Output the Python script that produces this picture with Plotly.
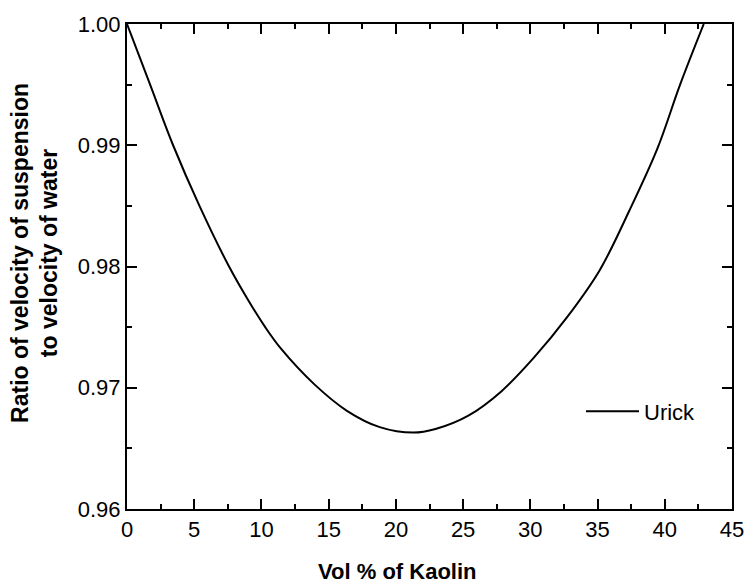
import plotly.graph_objects as go

# Urick curve
vol_kaolin = [0.0, 1.72, 3.43, 5.39, 7.59, 9.03, 10.28, 11.47, 13.92, 16.36,
              18.80, 21.3, 22.95, 25.39, 27.84, 30.28, 32.72, 35.16, 37.36,
              39.44, 41.14, 42.9]
velocity_ratio = [1.000, 0.995, 0.990, 0.985, 0.980, 0.9772, 0.975, 0.9732,
                  0.9703, 0.9681, 0.96675, 0.9663, 0.9666, 0.9677, 0.9697,
                  0.9725, 0.9758, 0.9797, 0.9846, 0.9897, 0.995, 1.000]
series_name = "Urick"

FONT = "Liberation Sans, Arial, Helvetica, sans-serif"

fig = go.Figure()
fig.add_trace(go.Scatter(
    x=vol_kaolin, y=velocity_ratio, mode="lines", name=series_name,
    line=dict(color="black", width=2, shape="spline", smoothing=1.0),
    showlegend=True,
))

axis_common = dict(
    showline=True, linecolor="#000000", linewidth=2, mirror="ticks",
    ticks="inside", ticklen=10, tickwidth=2, tickcolor="#000000",
    showgrid=False, zeroline=False, layer="above traces",
    tickfont=dict(family=FONT, size=22, color="black"),
)
fig.update_xaxes(
    range=[0, 45], tickmode="linear", tick0=0, dtick=5,
    minor=dict(ticks="inside", ticklen=5, tickwidth=2, tickcolor="#000000",
               tickmode="linear", tick0=0, dtick=2.5),
    **axis_common,
)
fig.update_yaxes(
    range=[0.96, 1.00], tickmode="linear", tick0=0.96, dtick=0.01, tickformat=".2f",
    minor=dict(ticks="inside", ticklen=5, tickwidth=2, tickcolor="#000000",
               tickmode="linear", tick0=0.96, dtick=0.005),
    **axis_common,
)

fig.add_annotation(
    text="<b>Vol % of Kaolin</b>", xref="paper", yref="paper",
    x=(401 - 127) / 613, y=-(572 - 509) / 492, xanchor="center", yanchor="middle",
    showarrow=False, font=dict(family=FONT, size=22, color="black"),
)
fig.add_annotation(
    text="<b>Ratio of velocity of suspension<br>to velocity of water</b>",
    xref="paper", yref="paper", textangle=-90,
    x=-(127 - 33) / 613, y=(509 - 249) / 492, xanchor="center", yanchor="middle",
    showarrow=False, font=dict(family=FONT, size=23, color="black"),
)

fig.update_layout(
    width=756, height=587,
    margin=dict(l=127, r=16, t=17, b=78),
    paper_bgcolor="white", plot_bgcolor="white",
    font=dict(family=FONT, size=22, color="black"),
    legend=dict(
        x=(587 - 127) / 613, y=(509 - 410) / 492, xanchor="left", yanchor="middle",
        bgcolor="rgba(0,0,0,0)", borderwidth=0, itemwidth=53,
        font=dict(family=FONT, size=22, color="black"),
    ),
)

fig.write_html("out.html")
